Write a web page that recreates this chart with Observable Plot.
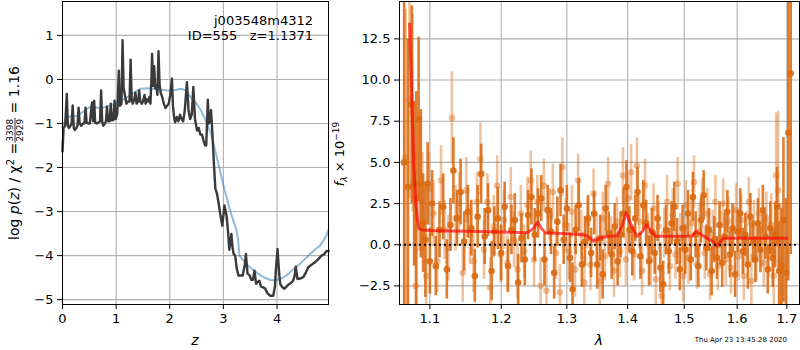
<!DOCTYPE html>
<html><head><meta charset="utf-8">
<script src="https://cdn.jsdelivr.net/npm/d3@7"></script>
<script src="https://cdn.jsdelivr.net/npm/@observablehq/plot@0.6"></script>
<style>
html,body{margin:0;padding:0;background:#fff;}
#wrap{position:relative;width:800px;height:350px;overflow:hidden;font-family:"DejaVu Sans";}
#wrap > svg, #wrap > div{position:absolute;top:0;}
</style></head>
<body><div id="wrap"></div>
<script>
// ---------- Left panel: log p(z) ----------
const zDark = [0.00,0.02,0.05,0.08,0.10,0.12,0.15,0.17,0.19,0.21,0.23,0.26,0.28,0.30,0.32,0.35,0.38,0.41,0.43,0.45,0.48,0.51,0.53,0.55,0.57,0.59,0.61,0.64,0.67,0.70,0.72,0.74,0.76,0.79,0.81,0.83,0.85,0.88,0.90,0.92,0.95,0.97,0.99,1.02,1.05,1.07,1.10,1.12,1.14,1.17,1.19,1.22,1.25,1.27,1.29,1.31,1.34,1.36,1.38,1.41,1.43,1.45,1.48,1.50,1.53,1.55,1.57,1.60,1.62,1.64,1.66,1.67,1.69,1.71,1.73,1.75,1.77,1.79,1.81,1.83,1.86,1.89,1.92,1.95,1.98,2.01,2.04,2.06,2.08,2.10,2.13,2.16,2.19,2.22,2.25,2.28,2.32,2.35,2.38,2.41,2.44,2.47,2.51,2.54,2.57,2.60,2.63,2.66,2.68,2.71,2.73,2.75,2.77,2.79,2.82,2.85,2.88,2.91,2.94,2.98,3.02,3.06,3.09,3.11,3.15,3.17,3.19,3.22,3.25,3.28,3.32,3.36,3.40,3.42,3.45,3.49,3.52,3.55,3.58,3.61,3.64,3.67,3.70,3.74,3.78,3.82,3.87,3.93,3.96,3.98,4.01,4.04,4.06,4.10,4.14,4.18,4.22,4.26,4.30,4.33,4.35,4.38,4.43,4.49,4.54,4.58,4.65,4.71,4.77,4.83,4.88,4.92,4.96];
const logpDark = [-1.64,-1.10,-1.05,-0.33,-1.05,-1.10,-1.05,-1.00,-0.59,-1.10,-1.15,-1.10,-1.05,-0.64,-1.00,-1.05,-1.00,-1.00,-0.64,-0.98,-1.00,-1.00,-0.75,-0.52,-0.95,-0.48,-0.98,-1.00,-0.98,-0.95,-0.25,-0.95,-1.05,-1.00,-0.95,-0.62,-0.95,-0.95,-0.55,-0.93,-0.92,-0.48,-0.90,-0.80,0.20,-0.60,-0.55,0.89,-0.20,-0.40,-0.55,-0.50,-0.50,0.45,-0.45,-0.55,-0.45,-0.30,-0.55,-0.50,-0.25,-0.50,-0.55,-0.50,-0.35,-0.55,-0.45,-0.50,-0.40,-0.55,0.10,0.58,-0.15,0.30,-0.20,-0.15,-0.35,0.64,-0.10,-0.30,-0.40,-0.55,-0.65,-0.60,-0.55,-0.35,0.02,-0.60,-0.85,-0.97,-0.85,-0.95,-0.80,-0.90,-0.95,-0.70,-0.06,-0.70,-0.90,-0.80,-0.17,-0.90,-1.16,-1.10,-1.25,-1.25,-1.39,-1.50,-1.50,-0.46,-1.00,-0.95,-0.70,-1.10,-1.84,-2.48,-2.59,-2.80,-3.05,-3.32,-2.86,-3.10,-3.50,-3.87,-3.51,-3.80,-3.96,-4.00,-4.30,-4.45,-4.45,-4.45,-4.20,-3.96,-4.41,-4.45,-4.55,-4.55,-4.34,-4.64,-4.60,-4.57,-4.70,-4.72,-4.75,-4.85,-4.91,-4.91,-4.70,-4.30,-3.85,-4.40,-4.64,-4.72,-4.75,-4.70,-4.65,-4.62,-4.57,-4.45,-4.25,-4.53,-4.52,-4.49,-4.38,-4.27,-4.20,-4.15,-4.08,-4.00,-3.97,-3.90,-3.89];
const zSmooth = [0.00,0.04,0.08,0.15,0.27,0.40,0.52,0.62,0.71,0.85,0.99,1.10,1.21,1.33,1.46,1.60,1.77,1.96,2.10,2.21,2.30,2.39,2.48,2.58,2.68,2.77,2.89,3.02,3.14,3.24,3.27,3.30,3.38,3.46,3.58,3.71,3.80,3.89,3.98,4.08,4.18,4.27,4.40,4.52,4.62,4.71,4.80,4.86,4.92,4.96];
const logpSmooth = [-1.08,-0.95,-0.85,-0.84,-0.83,-0.72,-0.62,-0.63,-0.66,-0.60,-0.55,-0.48,-0.40,-0.30,-0.21,-0.20,-0.23,-0.25,-0.24,-0.21,-0.25,-0.40,-0.52,-0.70,-0.95,-1.23,-1.83,-2.50,-3.03,-3.41,-3.60,-4.00,-4.12,-4.23,-4.35,-4.46,-4.52,-4.56,-4.56,-4.52,-4.45,-4.35,-4.22,-4.08,-3.96,-3.86,-3.78,-3.67,-3.55,-3.41];
const zTicks = [0,1,2,3,4];
const logpTicks = [-5,-4,-3,-2,-1,0,1];

// ---------- Right panel: spectrum ----------
const lamDark = [1.066,1.071,1.076,1.079,1.082,1.085,1.088,1.091,1.094,1.097,1.100,1.103,1.108,1.113,1.118,1.123,1.128,1.132,1.137,1.142,1.147,1.152,1.157,1.162,1.166,1.171,1.176,1.181,1.186,1.190,1.195,1.200,1.205,1.210,1.215,1.220,1.225,1.230,1.235,1.240,1.245,1.250,1.255,1.260,1.265,1.270,1.275,1.280,1.285,1.290,1.295,1.300,1.305,1.309,1.314,1.319,1.324,1.329,1.334,1.339,1.344,1.349,1.354,1.358,1.363,1.368,1.373,1.378,1.383,1.388,1.393,1.398,1.403,1.408,1.413,1.417,1.422,1.427,1.432,1.437,1.442,1.447,1.452,1.457,1.462,1.467,1.472,1.477,1.482,1.487,1.492,1.497,1.502,1.507,1.512,1.516,1.521,1.526,1.531,1.536,1.541,1.546,1.551,1.556,1.561,1.566,1.571,1.576,1.581,1.586,1.591,1.596,1.601,1.606,1.611,1.616,1.621,1.626,1.631,1.636,1.641,1.646,1.651,1.656,1.661,1.666,1.671,1.676,1.680,1.684,1.689,1.693,1.698,1.703,1.708];
const fluxDark = [5.0,3.5,8.5,3.7,2.8,7.6,3.7,1.3,0.3,3.7,-1.0,2.5,-1.3,0.9,2.3,-1.5,1.2,4.5,1.6,3.2,0.2,2.0,1.0,-1.9,1.7,4.3,0.5,2.1,-1.6,0.8,1.6,-0.5,2.3,-1.3,0.9,1.5,-2.3,0.4,-0.9,1.8,2.9,0.6,1.9,2.8,-0.9,2.1,0.8,-1.7,1.4,3.3,0.3,2.2,-0.8,-2.7,0.9,2.4,-1.2,0.2,1.6,-0.5,1.9,-1.2,0.4,-1.8,2.2,0.7,-0.6,1.1,-1.0,0.6,1.9,3.5,0.9,-0.4,1.6,3.2,-0.7,2.4,1.3,-1.0,0.8,-0.5,1.6,-1.4,-2.4,0.9,-0.4,1.3,2.3,0.2,-1.5,1.0,-0.3,1.9,-0.9,2.9,0.6,-1.3,1.5,3.0,-0.2,0.9,-1.6,0.3,-0.8,1.2,-1.1,0.5,2.0,-0.6,1.0,-1.8,0.8,1.9,-0.4,0.6,-1.2,1.7,0.2,-0.9,1.3,-0.3,2.1,0.5,-1.5,1.0,-0.8,0.6,2.3,-1.6,-1.3,1.5,-1.7,6.8,10.4];
const errDark = [11,9,6,5,6.5,5,4.5,3,3.5,2.5,2.0,2.0,1.8,1.7,2.0,1.8,1.6,2.0,1.7,2.0,1.8,1.6,1.7,1.6,1.9,1.8,1.7,1.6,1.8,1.5,1.9,1.7,1.5,1.6,1.5,1.6,1.7,1.5,1.6,1.5,1.7,1.6,1.5,1.4,1.6,1.5,1.4,1.6,1.5,1.6,1.5,1.4,1.5,1.6,1.5,1.6,1.4,1.5,1.4,1.5,1.3,1.5,1.4,1.5,1.4,1.3,1.5,1.4,1.5,1.4,1.5,1.6,1.4,1.5,1.4,1.5,1.4,1.5,1.4,1.5,1.4,1.3,1.4,1.5,1.4,1.5,1.4,1.3,1.5,1.4,1.3,1.4,1.5,1.4,1.3,1.5,1.4,1.3,1.4,1.5,1.4,1.3,1.5,1.4,1.3,1.4,1.5,1.4,1.3,1.4,1.5,1.4,1.3,1.5,1.4,1.3,1.5,1.4,1.3,1.4,1.5,1.4,1.5,1.4,1.5,1.6,1.8,2.0,2.4,3.0,3.5,5.0,4.5,9,11];
const lamLight = [1.068,1.073,1.077,1.081,1.086,1.090,1.095,1.099,1.105,1.110,1.115,1.120,1.125,1.130,1.135,1.140,1.145,1.150,1.155,1.160,1.165,1.170,1.175,1.180,1.184,1.189,1.194,1.199,1.204,1.209,1.214,1.219,1.224,1.229,1.234,1.239,1.244,1.249,1.254,1.259,1.264,1.268,1.273,1.278,1.283,1.289,1.293,1.298,1.303,1.308,1.313,1.318,1.323,1.328,1.333,1.338,1.343,1.348,1.353,1.358,1.362,1.367,1.372,1.377,1.382,1.387,1.392,1.397,1.401,1.406,1.411,1.416,1.420,1.425,1.430,1.435,1.440,1.445,1.449,1.454,1.459,1.464,1.469,1.474,1.479,1.484,1.488,1.493,1.498,1.503,1.508,1.513,1.518,1.523,1.528,1.533,1.538,1.543,1.548,1.553,1.558,1.563,1.568,1.573,1.578,1.583,1.588,1.593,1.598,1.603,1.608,1.613,1.618,1.623,1.628,1.633,1.638,1.643,1.648,1.653,1.658,1.663,1.668,1.673,1.678,1.682,1.687];
const fluxLight = [5.3,8.8,8.0,-2.5,3.6,2.6,-1.9,3.4,1.9,-1.0,3.9,0.9,-0.2,7.7,1.6,2.5,-1.7,3.3,0.6,-1.0,2.6,5.2,-0.3,2.6,-2.6,1.1,3.6,-0.6,1.5,-1.1,2.9,0.3,-1.5,1.9,-0.4,2.4,3.9,-0.9,2.6,-2.5,3.6,-2.8,1.8,3.2,-0.5,-2.9,4.7,1.2,-0.4,2.0,-1.5,3.9,0.6,-2.3,1.3,-1.2,3.1,0.3,-2.2,1.6,-0.7,3.7,0.2,-1.6,1.4,-0.4,4.2,-0.9,2.8,4.4,-0.6,4.8,1.4,-1.6,3.6,0.4,-0.9,2.2,-2.1,1.1,-3.1,0.7,2.6,-1.3,1.8,-0.6,3.7,0.4,-1.9,2.4,-0.8,1.3,3.8,-1.2,0.8,2.5,-0.5,1.9,-1.8,0.6,2.6,-1.3,0.4,2.5,-0.9,1.4,-1.4,0.9,2.1,-0.7,1.5,-1.9,0.4,2.6,-2.2,1.2,-0.6,1.9,0.2,-1.1,1.6,-0.3,1.2,-1.9,4.2,3.3,-1.0];
const errLight = [9,6,6,5,4,3,2.5,2.2,2.0,1.9,2.1,1.8,2.0,2.8,2.0,1.9,1.8,2.0,1.8,1.9,1.8,2.2,1.8,1.7,1.8,1.9,1.8,1.7,1.8,1.7,1.8,1.7,1.8,1.7,1.6,1.7,1.8,1.7,1.6,1.7,1.6,1.7,1.6,1.7,1.6,1.7,1.8,1.6,1.7,1.6,1.7,1.6,1.5,1.6,1.5,1.6,1.5,1.6,1.5,1.6,1.5,1.6,1.5,1.6,1.5,1.6,1.7,1.6,1.5,1.7,1.6,1.7,1.6,1.5,1.6,1.5,1.6,1.5,1.6,1.5,1.6,1.5,1.6,1.5,1.6,1.5,1.6,1.5,1.6,1.5,1.6,1.5,1.6,1.5,1.6,1.5,1.6,1.5,1.6,1.5,1.6,1.5,1.6,1.5,1.6,1.5,1.6,1.5,1.6,1.5,1.6,1.5,1.6,1.5,1.6,1.5,1.6,1.5,1.6,1.5,1.6,1.7,1.9,2.2,3.8,4.8,3.5];
const lamModel = [1.0731,1.0760,1.0785,1.0810,1.0835,1.0854,1.0900,1.1009,1.1500,1.2000,1.2385,1.2470,1.2547,1.2600,1.2664,1.3000,1.3270,1.3337,1.3432,1.3470,1.3597,1.3820,1.3900,1.3978,1.4060,1.4161,1.4250,1.4335,1.4410,1.4481,1.5143,1.5216,1.5300,1.5422,1.5530,1.5610,1.5680,1.5738,1.7000];
const fluxModel = [13.4,9.0,5.0,2.7,1.5,0.97,0.90,0.87,0.82,0.77,0.73,0.95,1.38,1.0,0.73,0.66,0.61,0.51,0.22,0.30,0.47,0.55,1.1,1.92,1.2,0.51,0.8,1.21,0.8,0.51,0.51,0.81,0.65,0.40,0.2,-0.10,0.2,0.40,0.40];
const lamTicks = [1.1,1.2,1.3,1.4,1.5,1.6,1.7];
const fluxTicks = [-2.5,0,2.5,5,7.5,10,12.5];

const gridColor = "#b0b0b0";
const orange = "#da6a12";
const font = {fontFamily:"DejaVu Sans", fontSize:"13px", color:"black", background:"transparent", overflow:"visible"};

const pz = zDark.map((z,i)=>({z, v:logpDark[i]}));
const ps = zSmooth.map((z,i)=>({z, v:logpSmooth[i]}));
const left = Plot.plot({
  width:340, height:350, marginLeft:62, marginRight:12, marginTop:1, marginBottom:46,
  style: font,
  x:{domain:[0,4.96]},
  y:{domain:[-5.11,1.77]},
  marks:[
    Plot.gridX(zTicks,{stroke:gridColor, strokeOpacity:1, strokeWidth:1.1}),
    Plot.gridY(logpTicks,{stroke:gridColor, strokeOpacity:1, strokeWidth:1.1}),
    Plot.line(ps,{x:"z", y:"v", stroke:"#1f77b4", strokeOpacity:0.5, strokeWidth:2}),
    Plot.line(pz,{x:"z", y:"v", stroke:"#3a3a3a", strokeWidth:2.4}),
    Plot.frame({stroke:"black", strokeWidth:1}),
    Plot.axisX({ticks:zTicks, tickFormat:d3.format("d"), tickSize:5, tickPadding:4, label:null}),
    Plot.axisY({ticks:logpTicks, tickFormat:d3.format("d"), tickSize:5, tickPadding:4, label:null})
  ]
});
left.style.left = "0px";

const dD = lamDark.map((l,i)=>({l, f:fluxDark[i], lo:fluxDark[i]-errDark[i], hi:fluxDark[i]+errDark[i]}));
const dL = lamLight.map((l,i)=>({l, f:fluxLight[i], lo:fluxLight[i]-errLight[i], hi:fluxLight[i]+errLight[i]}));
const dM = lamModel.map((l,i)=>({l, f:fluxModel[i]}));
const right = Plot.plot({
  width:470, height:350, marginLeft:69, marginRight:1, marginTop:1, marginBottom:46,
  style: font,
  x:{type:"log", domain:[1.060,1.7264]},
  y:{domain:[-3.63,14.77]},
  marks:[
    Plot.gridX(lamTicks,{stroke:gridColor, strokeOpacity:1, strokeWidth:1.1}),
    Plot.gridY(fluxTicks,{stroke:gridColor, strokeOpacity:1, strokeWidth:1.1}),
    Plot.ruleX(dL,{x:"l", y1:"lo", y2:"hi", stroke:orange, strokeOpacity:0.4, strokeWidth:2.6, clip:true}),
    Plot.dot(dL,{x:"l", y:"f", r:3.3, fill:orange, fillOpacity:0.4, clip:true}),
    Plot.ruleX(dD,{x:"l", y1:"lo", y2:"hi", stroke:orange, strokeOpacity:0.88, strokeWidth:2.6, clip:true}),
    Plot.dot(dD,{x:"l", y:"f", r:3.3, fill:orange, fillOpacity:0.9, clip:true}),
    Plot.line(dM,{x:"l", y:"f", stroke:"red", strokeOpacity:0.65, strokeWidth:3, clip:true}),
    Plot.ruleY([0],{stroke:"black", strokeWidth:2, strokeDasharray:"2,3"}),
    Plot.frame({stroke:"black", strokeWidth:1}),
    Plot.axisX({ticks:lamTicks, tickFormat:d3.format(".1f"), tickSize:5, tickPadding:4, label:null}),
    Plot.axisY({ticks:fluxTicks, tickFormat:d3.format(".1f"), tickSize:5, tickPadding:4, label:null})
  ]
});
right.style.left = "330px";

const wrap = document.getElementById("wrap");
wrap.appendChild(right);
wrap.appendChild(left);

// ---------- Text overlay ----------
const NS = "http://www.w3.org/2000/svg";
const ov = document.createElementNS(NS,"svg");
ov.setAttribute("width",800); ov.setAttribute("height",350);
ov.style.left="0px"; ov.style.pointerEvents="none";
ov.setAttribute("font-family","DejaVu Sans");
wrap.appendChild(ov);
function txt(parent, s, x, y, size, anchor, italic){
  const t = document.createElementNS(NS,"text");
  t.setAttribute("x",x); t.setAttribute("y",y);
  t.setAttribute("font-size",size);
  if(anchor) t.setAttribute("text-anchor",anchor);
  if(italic) t.setAttribute("font-style","italic");
  t.textContent = s; parent.appendChild(t); return t;
}
txt(ov,"j003548m4312",313,25,13,"end");
txt(ov,"ID=555\u00a0\u00a0\u00a0z=1.1371",313,40,13,"end");
txt(ov,"z",195,345,14,"middle",true);
txt(ov,"λ",599,345,14,"middle",true);
txt(ov,"Thu Apr 23 13:45:28 2020",787,342,7,"end");

// left y label with fraction
const gl = document.createElementNS(NS,"g"); ov.appendChild(gl);
const a = document.createElementNS(NS,"text");
a.setAttribute("font-size",14); a.setAttribute("x",0); a.setAttribute("y",0);
a.innerHTML = 'log <tspan font-style="italic">p</tspan>(<tspan font-style="italic">z</tspan>) / χ<tspan font-size="10" dy="-5">2</tspan><tspan dy="5"> = </tspan>';
gl.appendChild(a);
const wA = a.getComputedTextLength();
const num = txt(gl,"3398",0,-6,9,"middle");
const den = txt(gl,"2929",0,4,9,"middle");
const wF = Math.max(num.getComputedTextLength(), den.getComputedTextLength())+2;
num.setAttribute("x", wA + wF/2); den.setAttribute("x", wA + wF/2);
const bar = document.createElementNS(NS,"line");
bar.setAttribute("x1",wA); bar.setAttribute("x2",wA+wF); bar.setAttribute("y1",-4); bar.setAttribute("y2",-4);
bar.setAttribute("stroke","black"); bar.setAttribute("stroke-width",0.8); gl.appendChild(bar);
const c = txt(gl,"\u00a0= 1.16", wA+wF, 0, 14);
const wC = c.getComputedTextLength();
const total = wA + wF + wC;
gl.setAttribute("transform",`translate(19,${153 + total/2}) rotate(-90)`);

// right y label
const gr = document.createElementNS(NS,"g"); ov.appendChild(gr);
const r = document.createElementNS(NS,"text");
r.setAttribute("font-size",13); r.setAttribute("x",0); r.setAttribute("y",0);
r.innerHTML = '<tspan font-style="italic">f</tspan><tspan font-size="9" font-style="italic" dy="3">λ</tspan><tspan dy="-3"> × 10</tspan><tspan font-size="9" dy="-5">−19</tspan>';
gr.appendChild(r);
const wr = r.getComputedTextLength();
gr.setAttribute("transform",`translate(344,${154 + wr/2}) rotate(-90)`);
</script></body></html>
